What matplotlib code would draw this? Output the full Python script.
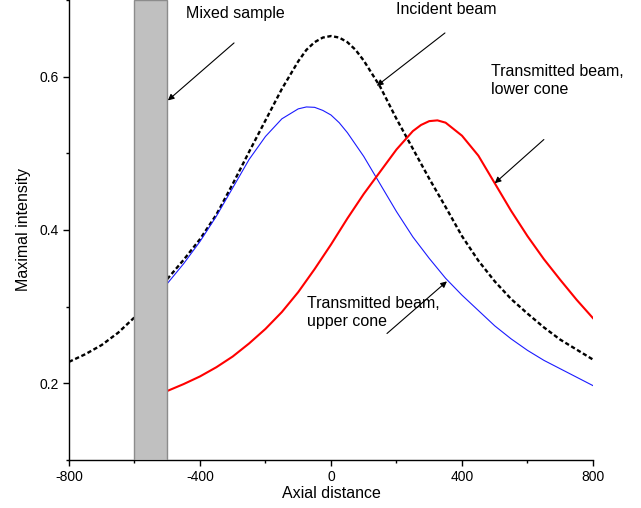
"""Axial intensity profiles of incident and transmitted beams around a mixed sample."""

import matplotlib
matplotlib.use("Agg")
import matplotlib.pyplot as plt
from matplotlib.patches import Rectangle
from matplotlib.ticker import MultipleLocator

plt.rcParams["font.family"] = ["Liberation Sans", "DejaVu Sans"]
plt.rcParams["axes.unicode_minus"] = False

# incident beam (black dashed)
x_incident = [-800, -750, -700, -650, -600, -550, -500, -450, -400, -350, -300,
              -250, -200, -150, -100, -75, -50, -25, 0, 25, 50, 75, 100, 150, 200,
              250, 300, 350, 400, 450, 500, 550, 600, 650, 700, 750, 800]
i_incident = [0.228, 0.238, 0.250, 0.266, 0.286, 0.309, 0.336, 0.361, 0.388, 0.420, 0.460,
              0.502, 0.543, 0.584, 0.620, 0.635, 0.645, 0.651, 0.653, 0.651, 0.645, 0.635, 0.621,
              0.587, 0.545, 0.506, 0.467, 0.430, 0.392, 0.360, 0.333, 0.310, 0.291, 0.273,
              0.257, 0.244, 0.231]

# transmitted beam, upper cone (blue)
x_upper = [-500, -450, -400, -350, -300, -250, -200, -150, -100, -75, -50, -25, 0,
           25, 50, 100, 150, 200, 250, 300, 350, 400, 450, 500,
           550, 600, 650, 700, 750, 800]
i_upper = [0.330, 0.356, 0.385, 0.418, 0.455, 0.492, 0.522, 0.545, 0.558, 0.5605, 0.560, 0.556, 0.550,
           0.540, 0.527, 0.496, 0.460, 0.424, 0.391, 0.363, 0.337, 0.315, 0.295, 0.275,
           0.258, 0.243, 0.230, 0.219, 0.208, 0.197]

# transmitted beam, lower cone (red)
x_lower = [-500, -450, -400, -350, -300, -250, -200, -150, -100, -50, 0,
           50, 100, 150, 200, 250, 275, 300, 325, 350, 400, 450, 500,
           550, 600, 650, 700, 750, 800]
i_lower = [0.190, 0.199, 0.209, 0.221, 0.235, 0.252, 0.271, 0.293, 0.319, 0.349, 0.381,
           0.415, 0.447, 0.476, 0.505, 0.529, 0.537, 0.542, 0.543, 0.540, 0.523, 0.497, 0.461,
           0.425, 0.392, 0.362, 0.335, 0.309, 0.285]

sample_span = (-600, -500)


def main() -> None:
    fig = plt.figure(figsize=(6.41, 5.08), dpi=100)
    ax = fig.add_axes([0.1076, 0.0945, 0.8175, 0.9055])

    ax.plot(x_incident, i_incident, color="black", lw=1.7, linestyle=(0, (1.8, 1.1)), zorder=2)
    ax.plot(x_upper, i_upper, color="#1a1aff", lw=0.8, zorder=2)
    ax.plot(x_lower, i_lower, color="#ff0000", lw=1.5, zorder=2)

    ax.add_patch(Rectangle((sample_span[0], 0.1), sample_span[1] - sample_span[0], 0.6,
                           facecolor="#c0c0c0", edgecolor="#8c8c8c", lw=1.0, zorder=3))

    arrow = dict(arrowstyle="-|>", color="black", lw=0.8, mutation_scale=9, shrinkA=0, shrinkB=0)
    ax.annotate("", xy=(-498, 0.569), xytext=(-296, 0.644), arrowprops=arrow, zorder=4)
    ax.annotate("", xy=(140, 0.588), xytext=(348, 0.657), arrowprops=arrow, zorder=4)
    ax.annotate("", xy=(500, 0.461), xytext=(650, 0.518), arrowprops=arrow, zorder=4)
    ax.annotate("", xy=(354, 0.333), xytext=(171, 0.265), arrowprops=arrow, zorder=4)

    fs = 11.5
    ax.text(-443, 0.683, "Mixed sample", fontsize=fs, va="center", ha="left")
    ax.text(198, 0.687, "Incident beam", fontsize=fs, va="center", ha="left")
    ax.text(488, 0.595, "Transmitted beam,\nlower cone", fontsize=fs, va="center", ha="left",
            linespacing=1.25)
    ax.text(-73, 0.2925, "Transmitted beam,\nupper cone", fontsize=fs, va="center", ha="left",
            linespacing=1.25)

    ax.set_xlim(-800, 800)
    ax.set_ylim(0.1, 0.7)
    ax.xaxis.set_major_locator(MultipleLocator(400))
    ax.xaxis.set_minor_locator(MultipleLocator(200))
    ax.yaxis.set_minor_locator(MultipleLocator(0.1))
    ax.set_yticks([0.2, 0.4, 0.6])
    ax.set_yticklabels(["0.2", "0.4", "0.6"])
    ax.tick_params(which="major", direction="out", length=4, width=1.0, labelsize=10)
    ax.tick_params(which="minor", direction="out", length=2.5, width=1.0)

    for side in ("top", "right"):
        ax.spines[side].set_visible(False)
    for side in ("left", "bottom"):
        ax.spines[side].set_linewidth(1.0)

    ax.set_xlabel("Axial distance", fontsize=11.5, labelpad=1)
    ax.set_ylabel("Maximal intensity", fontsize=11.5, labelpad=6)

    fig.savefig("out.png", dpi=100)


if __name__ == "__main__":
    main()
